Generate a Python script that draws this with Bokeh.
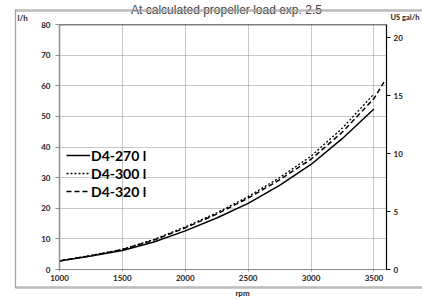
from bokeh.plotting import figure
from bokeh.models import (Range1d, LinearAxis, FixedTicker, Legend, LegendItem,
                          Label, Span)
from bokeh.embed import file_html
from bokeh.resources import INLINE

# ---- data ----
rpm_270 = [1000, 1250, 1500, 1750, 2000, 2250, 2500, 2750, 3000, 3250, 3500]
lh_270 = [2.8, 4.4, 6.2, 9.0, 12.6, 16.8, 21.6, 27.5, 34.3, 42.8, 52.4]
rpm_300 = [1000, 1250, 1500, 1750, 2000, 2250, 2500, 2750, 3000, 3250, 3500]
lh_300 = [2.8, 4.6, 6.6, 9.8, 13.9, 18.5, 23.8, 30.0, 37.0, 46.2, 57.3]
rpm_320 = [1000, 1250, 1500, 1750, 2000, 2250, 2500, 2750, 3000, 3250, 3500, 3580]
lh_320 = [2.8, 4.5, 6.5, 9.6, 13.6, 18.1, 23.3, 29.3, 36.0, 44.9, 55.8, 61.2]
series_names = ["D4-270 l", "D4-300 l", "D4-320 l"]
x_ticks = [1000, 1500, 2000, 2500, 3000, 3500]
y_ticks = [0, 10, 20, 30, 40, 50, 60, 70, 80]
gal_ticks = [0, 5, 10, 15, 20]
LITRES_PER_GAL = 3.785411784
title_text = "At calculated propeller load exp. 2.5"

W, H = 422, 299
L, R, T, B = 59, 422 - 386, 24, 299 - 269
X0, X1, Y0, Y1 = 1000, 3600, 0, 80

p = figure(width=W, height=H, output_backend="svg", toolbar_location=None,
           x_range=Range1d(X0, X1), y_range=Range1d(Y0, Y1),
           min_border_left=L, min_border_right=R, min_border_top=T,
           min_border_bottom=B)
p.outline_line_color = None
p.background_fill_color = "white"
p.border_fill_color = "white"

FONT = "Lato"
# grid
for g in (p.xgrid, p.ygrid):
    g.grid_line_color = "#8f8f8f"
    g.grid_line_dash = "1 1"
    g.grid_line_width = 1
p.xgrid.ticker = FixedTicker(ticks=x_ticks)
p.ygrid.ticker = FixedTicker(ticks=y_ticks)

# x axis
xa = p.xaxis[0]
xa.ticker = FixedTicker(ticks=x_ticks)
xa.axis_line_color = "#8c8c8c"
xa.major_tick_line_color = "#8c8c8c"
xa.major_tick_out = 2
xa.major_tick_in = 0
xa.minor_tick_line_color = None
xa.major_label_text_font = FONT
xa.major_label_text_font_style = "bold"
xa.major_label_text_font_size = "8px"
xa.major_label_text_color = "#222222"
xa.major_label_standoff = 3

# left axis
ya = p.yaxis[0]
ya.ticker = FixedTicker(ticks=y_ticks)
ya.axis_line_color = "#8c8c8c"
ya.axis_line_width = 1.5
ya.major_tick_line_color = "#8c8c8c"
ya.major_tick_out = 4
ya.major_tick_in = 0
ya.minor_tick_line_color = None
ya.major_label_text_font = FONT
ya.major_label_text_font_style = "bold"
ya.major_label_text_font_size = "8px"
ya.major_label_text_color = "#222222"
ya.major_label_standoff = 5

# right axis in US gal/h
p.extra_y_ranges = {"gal": Range1d(Y0 / LITRES_PER_GAL, Y1 / LITRES_PER_GAL)}
ra = LinearAxis(y_range_name="gal", ticker=FixedTicker(ticks=gal_ticks))
ra.axis_line_color = "black"
ra.axis_line_width = 1.2
ra.major_tick_line_color = "black"
ra.major_tick_out = 4
ra.major_tick_in = 0
ra.minor_tick_line_color = None
ra.major_label_text_font = FONT
ra.major_label_text_font_style = "bold"
ra.major_label_text_font_size = "8px"
ra.major_label_text_color = "#222222"
ra.major_label_standoff = 3
p.add_layout(ra, "right")

# top frame line
p.add_layout(Span(location=Y1, dimension="width", line_color="black",
                  line_width=1.5))

# series
r1 = p.line(rpm_270, lh_270, line_color="black", line_width=1.5)
r2 = p.line(rpm_300, lh_300, line_color="black", line_width=1.3,
            line_dash="2 2")
r3 = p.line(rpm_320, lh_320, line_color="black", line_width=1.5,
            line_dash="5 3")

leg = Legend(items=[LegendItem(label=series_names[0], renderers=[r1]),
                    LegendItem(label=series_names[1], renderers=[r2]),
                    LegendItem(label=series_names[2], renderers=[r3])],
             location=(7, 269 - 200))
leg.background_fill_alpha = 0
leg.border_line_color = None
leg.padding = 0
leg.margin = 0
leg.spacing = 0
leg.glyph_width = 24
leg.glyph_height = 18
leg.label_height = 18
leg.label_standoff = 1
leg.label_text_font = FONT
leg.label_text_font_style = "bold"
leg.label_text_font_size = "14px"
leg.label_text_color = "black"
p.add_layout(leg, "center")

# texts outside the frame (canvas coordinates, placed in side panels)
texts = [
    ("left", dict(x=17, y=12, text="l/h", text_font=FONT,
                  text_font_style="bold", text_font_size="8px",
                  text_baseline="top", text_color="#222222")),
    ("above", dict(x=390, y=12, text="US gal/h", text_font=FONT,
                   text_font_style="bold", text_font_size="7.5px",
                   text_baseline="top", text_color="#222222")),
    ("above", dict(x=226, y=9, text=title_text, text_font="Liberation Sans",
                   text_font_size="12px", text_align="center",
                   text_baseline="alphabetic", text_color="#404040")),
    ("below", dict(x=242, y=292, text="rpm", text_font=FONT,
                   text_font_style="bold", text_font_size="8px",
                   text_align="center", text_baseline="middle",
                   text_color="#222222")),
]
for side, t in texts:
    lab = Label(x_units="canvas", y_units="canvas", **t)
    p.add_layout(lab, side)


# outer chart border, drawn as blank boxed labels (thin lines)
def border_line(side, cx, cy, half_w, half_h):
    lab = Label(x=cx, y=cy, x_units="canvas", y_units="canvas", text=" ",
                text_font_size="1px", text_align="center",
                text_baseline="middle", border_line_color="#a0a0a0",
                border_line_width=1, background_fill_color=None)
    try:
        lab.padding = dict(left=half_w, right=half_w, top=half_h,
                           bottom=half_h)
    except Exception:
        lab.padding = (half_w, half_h)
    p.add_layout(lab, side)


border_line("below", 222, 10, 207, 0)
border_line("below", 222, 287, 207, 0)
border_line("left", 15, 148, 0, 138)

open("out.html", "w").write(file_html(p, INLINE))
